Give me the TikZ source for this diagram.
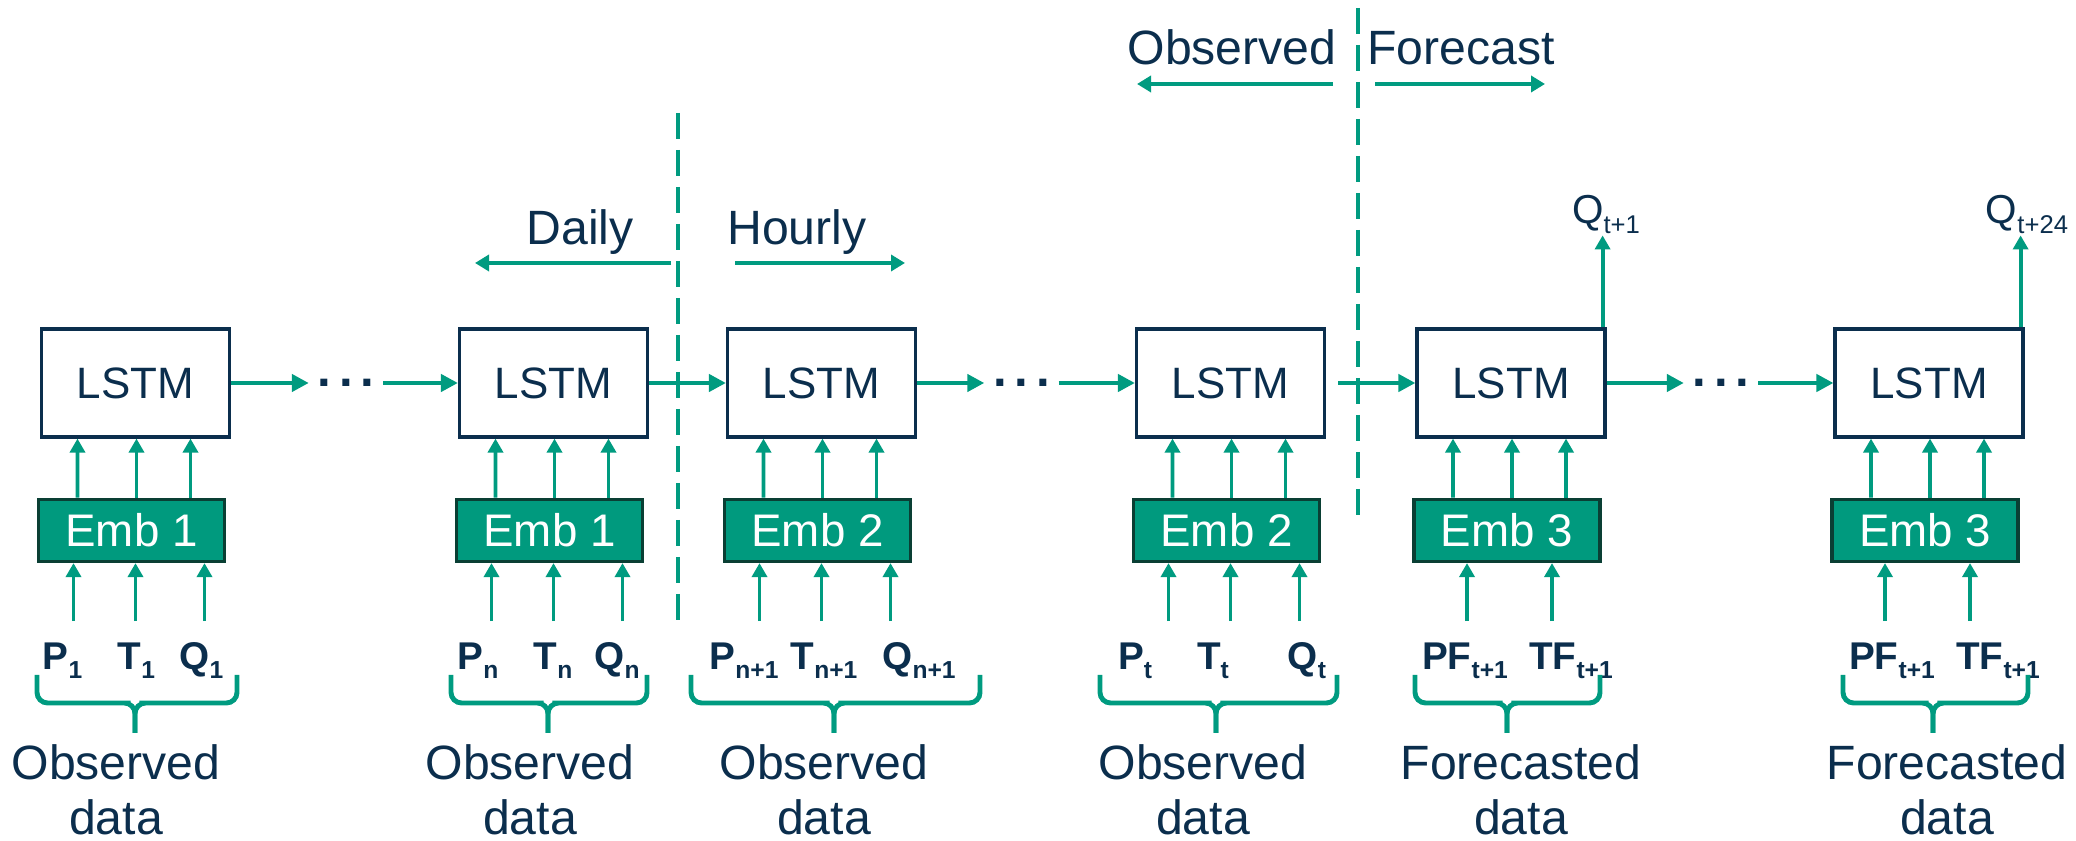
\documentclass[tikz,border=0pt]{standalone}
\usepackage{fontspec}
\setmainfont{Liberation Sans}
\usepackage{tikz}
\usetikzlibrary{arrows.meta, positioning}
\definecolor{navy}{HTML}{0B2E4D}
\definecolor{flow}{HTML}{009B80}
\definecolor{embfill}{HTML}{009A7E}
\definecolor{embline}{HTML}{0A3F34}
\newcommand{\insub}[1]{\raisebox{-0.9mm}{\fontsize{7}{8}\selectfont #1}}
\newcommand{\outsub}[1]{\raisebox{-1mm}{\fontsize{7.3}{8}\selectfont #1}}

\begin{document}
\begin{tikzpicture}[
    lstm/.style={rectangle, draw=navy, line width=0.9pt, fill=white,
                 minimum width=1.88cm, minimum height=1.08cm, text=navy, font=\fontsize{12.5}{15}\selectfont},
    emb/.style={rectangle, draw=embline, line width=1pt, fill=embfill,
                minimum width=1.86cm, minimum height=0.62cm, text=white, font=\fontsize{13}{15}\selectfont},
    invar/.style={anchor=base, inner sep=0pt, text=navy, font=\bfseries\fontsize{11}{13}\selectfont},
    lbl/.style={anchor=base, inner sep=0pt, text=navy, font=\fontsize{13.7}{16}\selectfont},
    qlbl/.style={anchor=base, inner sep=0pt, text=navy, font=\fontsize{11.5}{14}\selectfont},
    src/.style={anchor=north, align=center, inner sep=0pt, text=navy, font=\fontsize{13.7}{15.6}\selectfont},
    ellip/.style={inner xsep=0.8mm, inner ysep=0pt, text=navy, font=\bfseries\fontsize{14}{16}\selectfont},
    harr/.style={-{Triangle[length=1.7mm, width=1.7mm]}, line width=1.4pt, color=flow},
    varr/.style={-{Triangle[length=1.4mm, width=1.5mm]}, line width=1.1pt, color=flow},
    larr/.style={-{Triangle[length=1.4mm, width=1.6mm]}, line width=1.4pt, color=flow},
    brc/.style={line width=1.4pt, color=flow, rounded corners=3pt},
    divider/.style={dash pattern=on 2.6mm off 1.1mm, line width=1pt, color=flow}
]
\useasboundingbox (0,0) rectangle (20.76,-8.41);

% LSTM chain
\node[lstm] (lstm1) at (1.355,-3.83) {LSTM};
\node[lstm] (lstm2) at (5.535,-3.83) {LSTM};
\node[lstm] (lstm3) at (8.215,-3.83) {LSTM};
\node[lstm] (lstm4) at (12.305,-3.83) {LSTM};
\node[lstm] (lstm5) at (15.11,-3.83) {LSTM};
\node[lstm] (lstm6) at (19.29,-3.83) {LSTM};

\node[ellip] (gap1) at (3.46,-3.83) {.\kern0.8mm.\kern0.8mm.};
\node[ellip] (gap2) at (10.215,-3.83) {.\kern0.8mm.\kern0.8mm.};
\node[ellip] (gap3) at (17.21,-3.83) {.\kern0.8mm.\kern0.8mm.};

% embeddings
\node[emb, below=0.59cm of lstm1, xshift=-0.4mm] (emb1) {Emb 1};
\node[emb, below=0.59cm of lstm2, xshift=-0.4mm] (emb2) {Emb 1};
\node[emb, below=0.59cm of lstm3, xshift=-0.4mm] (emb3) {Emb 2};
\node[emb, below=0.59cm of lstm4, xshift=-0.4mm] (emb4) {Emb 2};
\node[emb, below=0.59cm of lstm5, xshift=-0.4mm] (emb5) {Emb 3};
\node[emb, below=0.59cm of lstm6, xshift=-0.4mm] (emb6) {Emb 3};

% inputs
\node[invar] (p1) at (0.625,-6.70) {P\insub{1}};
\node[invar] (t1) at (1.365,-6.70) {T\insub{1}};
\node[invar] (q1) at (2.015,-6.70) {Q\insub{1}};
\node[invar] (pn) at (4.78,-6.70) {P\insub{n}};
\node[invar] (tn) at (5.53,-6.70) {T\insub{n}};
\node[invar] (qn) at (6.17,-6.70) {Q\insub{n}};
\node[invar] (pn1) at (7.44,-6.70) {P\insub{n+1}};
\node[invar] (tn1) at (8.24,-6.70) {T\insub{n+1}};
\node[invar] (qn1) at (9.19,-6.70) {Q\insub{n+1}};
\node[invar] (pt) at (11.35,-6.70) {P\insub{t}};
\node[invar] (tt) at (12.13,-6.70) {T\insub{t}};
\node[invar] (qt) at (13.07,-6.70) {Q\insub{t}};
\node[invar] (pfa) at (14.65,-6.70) {PF\insub{t+1}};
\node[invar] (tfa) at (15.71,-6.70) {TF\insub{t+1}};
\node[invar] (pfb) at (18.92,-6.70) {PF\insub{t+1}};
\node[invar] (tfb) at (19.98,-6.70) {TF\insub{t+1}};

\node[src] (obs1) at (1.16,-7.44) {Observed\\data};
\node[src] (obs2) at (5.30,-7.44) {Observed\\data};
\node[src] (obs3) at (8.24,-7.44) {Observed\\data};
\node[src] (obs4) at (12.03,-7.44) {Observed\\data};
\node[src] (fc1) at (15.21,-7.44) {Forecasted\\data};
\node[src] (fc2) at (19.47,-7.44) {Forecasted\\data};

% outputs
\node[qlbl] (qout1) at (16.06,-2.24) {Q\outsub{t+1}};
\node[qlbl] (qout2) at (20.27,-2.24) {Q\outsub{t+24}};

% period labels
\node[lbl] (daily) at (5.80,-2.45) {Daily};
\node[lbl] (hourly) at (7.97,-2.45) {Hourly};
\node[lbl] (obs) at (12.32,-0.65) {Observed};
\node[lbl] (fcst) at (14.61,-0.65) {Forecast};

\coordinate (cut1a) at (6.78,-1.13);
\coordinate (cut1b) at (6.78,-6.30);
\coordinate (cut2a) at (13.58,-0.08);
\coordinate (cut2b) at (13.58,-5.25);
\draw[divider] (cut1a) -- (cut1b);
\draw[divider] (cut2a) -- (cut2b);

\draw[larr] ([xshift=9.1mm,yshift=-1.8mm]daily.base) -- ([xshift=-10.5mm,yshift=-1.8mm]daily.base);
\draw[larr] ([xshift=-6.2mm,yshift=-1.8mm]hourly.base) -- ([xshift=10.8mm,yshift=-1.8mm]hourly.base);
\draw[larr] ([xshift=10.1mm,yshift=-1.9mm]obs.base) -- ([xshift=-9.5mm,yshift=-1.9mm]obs.base);
\draw[larr] ([xshift=-8.6mm,yshift=-1.9mm]fcst.base) -- ([xshift=8.4mm,yshift=-1.9mm]fcst.base);

% recurrent links
\draw[harr] (lstm1) -- (gap1);
\draw[harr] (gap1) -- (lstm2);
\draw[harr] (lstm2) -- (lstm3);
\draw[harr] (lstm3) -- (gap2);
\draw[harr] (gap2) -- (lstm4);
\draw[harr, shorten <=1.2mm] (lstm4) -- (lstm5);
\draw[harr] (lstm5) -- (gap3);
\draw[harr] (gap3) -- (lstm6);

\draw[varr] ([xshift=-0.4mm]lstm5.north east) -- ([xshift=-0.4mm,yshift=9.2mm]lstm5.north east);
\draw[varr] ([xshift=-0.4mm]lstm6.north east) -- ([xshift=-0.4mm,yshift=9.2mm]lstm6.north east);

% embedding -> lstm
\draw[varr] ([xshift=-5.4mm]emb1.north) -- ([xshift=-5.8mm]lstm1.south);
\draw[varr] ([xshift=0.5mm]emb1.north) -- ([xshift=0.1mm]lstm1.south);
\draw[varr] ([xshift=5.9mm]emb1.north) -- ([xshift=5.5mm]lstm1.south);
\draw[varr] ([xshift=-5.4mm]emb2.north) -- ([xshift=-5.8mm]lstm2.south);
\draw[varr] ([xshift=0.5mm]emb2.north) -- ([xshift=0.1mm]lstm2.south);
\draw[varr] ([xshift=5.9mm]emb2.north) -- ([xshift=5.5mm]lstm2.south);
\draw[varr] ([xshift=-5.4mm]emb3.north) -- ([xshift=-5.8mm]lstm3.south);
\draw[varr] ([xshift=0.5mm]emb3.north) -- ([xshift=0.1mm]lstm3.south);
\draw[varr] ([xshift=5.9mm]emb3.north) -- ([xshift=5.5mm]lstm3.south);
\draw[varr] ([xshift=-5.4mm]emb4.north) -- ([xshift=-5.8mm]lstm4.south);
\draw[varr] ([xshift=0.5mm]emb4.north) -- ([xshift=0.1mm]lstm4.south);
\draw[varr] ([xshift=5.9mm]emb4.north) -- ([xshift=5.5mm]lstm4.south);
\draw[varr] ([xshift=-5.4mm]emb5.north) -- ([xshift=-5.8mm]lstm5.south);
\draw[varr] ([xshift=0.5mm]emb5.north) -- ([xshift=0.1mm]lstm5.south);
\draw[varr] ([xshift=5.9mm]emb5.north) -- ([xshift=5.5mm]lstm5.south);
\draw[varr] ([xshift=-5.4mm]emb6.north) -- ([xshift=-5.8mm]lstm6.south);
\draw[varr] ([xshift=0.5mm]emb6.north) -- ([xshift=0.1mm]lstm6.south);
\draw[varr] ([xshift=5.9mm]emb6.north) -- ([xshift=5.5mm]lstm6.south);

% inputs -> embedding
\draw[varr] ([xshift=-5.8mm,yshift=-5.8mm]emb1.south) -- ([xshift=-5.8mm]emb1.south);
\draw[varr] ([xshift=0.4mm,yshift=-5.8mm]emb1.south) -- ([xshift=0.4mm]emb1.south);
\draw[varr] ([xshift=7.3mm,yshift=-5.8mm]emb1.south) -- ([xshift=7.3mm]emb1.south);
\draw[varr] ([xshift=-5.8mm,yshift=-5.8mm]emb2.south) -- ([xshift=-5.8mm]emb2.south);
\draw[varr] ([xshift=0.4mm,yshift=-5.8mm]emb2.south) -- ([xshift=0.4mm]emb2.south);
\draw[varr] ([xshift=7.3mm,yshift=-5.8mm]emb2.south) -- ([xshift=7.3mm]emb2.south);
\draw[varr] ([xshift=-5.8mm,yshift=-5.8mm]emb3.south) -- ([xshift=-5.8mm]emb3.south);
\draw[varr] ([xshift=0.4mm,yshift=-5.8mm]emb3.south) -- ([xshift=0.4mm]emb3.south);
\draw[varr] ([xshift=7.3mm,yshift=-5.8mm]emb3.south) -- ([xshift=7.3mm]emb3.south);
\draw[varr] ([xshift=-5.8mm,yshift=-5.8mm]emb4.south) -- ([xshift=-5.8mm]emb4.south);
\draw[varr] ([xshift=0.4mm,yshift=-5.8mm]emb4.south) -- ([xshift=0.4mm]emb4.south);
\draw[varr] ([xshift=7.3mm,yshift=-5.8mm]emb4.south) -- ([xshift=7.3mm]emb4.south);
\draw[varr] ([xshift=-4.0mm,yshift=-5.8mm]emb5.south) -- ([xshift=-4.0mm]emb5.south);
\draw[varr] ([xshift=4.5mm,yshift=-5.8mm]emb5.south) -- ([xshift=4.5mm]emb5.south);
\draw[varr] ([xshift=-4.0mm,yshift=-5.8mm]emb6.south) -- ([xshift=-4.0mm]emb6.south);
\draw[varr] ([xshift=4.5mm,yshift=-5.8mm]emb6.south) -- ([xshift=4.5mm]emb6.south);

% braces
\draw[brc] (0.37,-6.75) |- (1.20,-7.03) -| (1.35,-7.33);
\draw[brc] (2.37,-6.75) |- (1.50,-7.03) -| (1.35,-7.33);
\draw[brc] (4.51,-6.75) |- (5.33,-7.03) -| (5.48,-7.33);
\draw[brc] (6.47,-6.75) |- (5.63,-7.03) -| (5.48,-7.33);
\draw[brc] (6.91,-6.75) |- (8.19,-7.03) -| (8.34,-7.33);
\draw[brc] (9.80,-6.75) |- (8.49,-7.03) -| (8.34,-7.33);
\draw[brc] (11.00,-6.75) |- (12.01,-7.03) -| (12.16,-7.33);
\draw[brc] (13.37,-6.75) |- (12.31,-7.03) -| (12.16,-7.33);
\draw[brc] (14.15,-6.75) |- (14.92,-7.03) -| (15.07,-7.33);
\draw[brc] (16.00,-6.75) |- (15.22,-7.03) -| (15.07,-7.33);
\draw[brc] (18.43,-6.75) |- (19.18,-7.03) -| (19.33,-7.33);
\draw[brc] (20.28,-6.75) |- (19.48,-7.03) -| (19.33,-7.33);

\end{tikzpicture}
\end{document}
